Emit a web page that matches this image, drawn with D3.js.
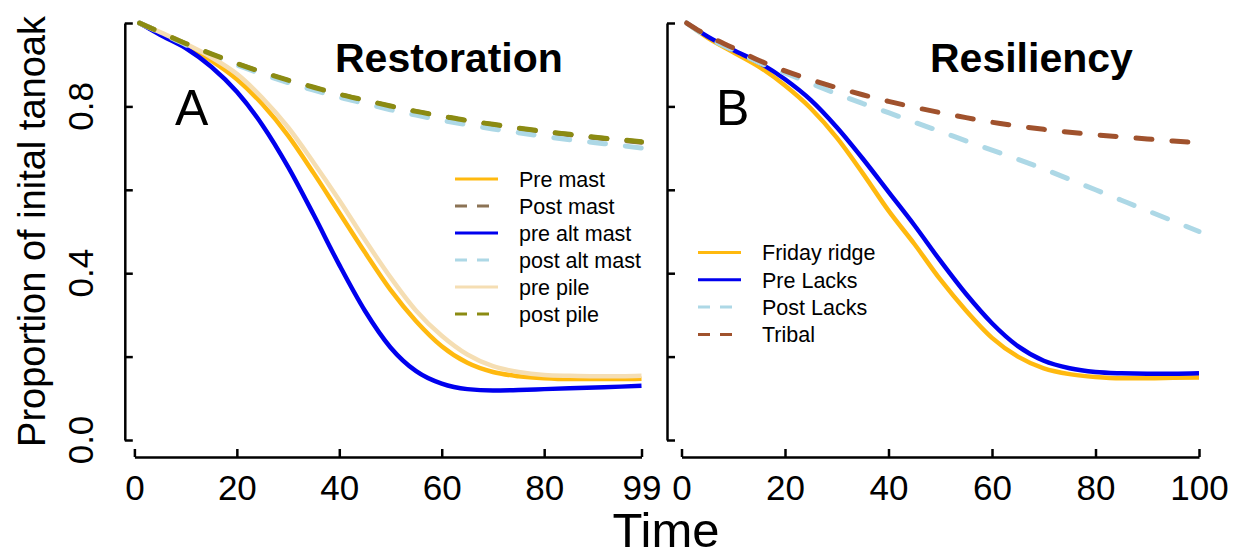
<!DOCTYPE html>
<html><head><meta charset="utf-8">
<script src="https://cdn.jsdelivr.net/npm/d3@7"></script>
<style>body{margin:0;background:#fff}text{font-family:"Liberation Sans",Arial,sans-serif}</style>
</head><body><svg id="c" width="1242" height="559"></svg>
<script>
// ---- data ----
const timeA = [1,5,10,15,20,25,30,35,40,45,50,55,60,65,70,75,80,85,90,95,99];
const preMast  = [1.0,0.975,0.945,0.91,0.865,0.805,0.73,0.64,0.545,0.45,0.36,0.285,0.225,0.185,0.163,0.153,0.148,0.146,0.146,0.146,0.147];
const postMast = [1.0,0.978,0.95,0.925,0.902,0.881,0.862,0.845,0.828,0.814,0.800,0.787,0.776,0.765,0.756,0.747,0.739,0.732,0.725,0.719,0.714];
const preAlt   = [1.0,0.972,0.94,0.895,0.835,0.755,0.655,0.54,0.42,0.31,0.222,0.165,0.135,0.122,0.119,0.12,0.122,0.124,0.126,0.128,0.13];
const postAlt  = [1.0,0.977,0.948,0.922,0.899,0.877,0.857,0.839,0.822,0.807,0.792,0.779,0.767,0.756,0.746,0.737,0.728,0.72,0.713,0.706,0.70];
const prePile  = [1.0,0.978,0.95,0.918,0.878,0.82,0.75,0.665,0.575,0.48,0.39,0.31,0.25,0.205,0.177,0.163,0.156,0.154,0.153,0.153,0.154];
const postPile = [1.0,0.978,0.951,0.926,0.903,0.882,0.863,0.846,0.829,0.815,0.801,0.788,0.777,0.766,0.757,0.748,0.740,0.733,0.726,0.720,0.715];

const timeB = [1,5,10,15,20,25,30,35,40,45,50,55,60,65,70,75,80,85,90,95,100];
const fridayRidge = [1.0,0.965,0.93,0.895,0.85,0.795,0.725,0.64,0.55,0.47,0.385,0.31,0.245,0.2,0.172,0.158,0.151,0.148,0.148,0.149,0.15];
const preLacks    = [1.0,0.968,0.935,0.905,0.865,0.815,0.75,0.675,0.595,0.515,0.43,0.35,0.28,0.225,0.19,0.172,0.163,0.16,0.159,0.159,0.16];
const postLacks   = [1.0,0.966,0.935,0.905,0.88,0.855,0.83,0.807,0.785,0.762,0.74,0.717,0.695,0.673,0.65,0.625,0.60,0.575,0.55,0.525,0.50];
const tribal      = [1.0,0.97,0.94,0.91,0.885,0.864,0.845,0.828,0.812,0.798,0.785,0.773,0.762,0.753,0.745,0.738,0.732,0.727,0.722,0.717,0.713];

const namesA = ["Pre mast","Post mast","pre alt mast","post alt mast","pre pile","post pile"];
const namesB = ["Friday ridge","Pre Lacks","Post Lacks","Tribal"];
const xTicksA = [0,20,40,60,80,99];
const xTicksB = [0,20,40,60,80,100];
const yTicks = [0,0.2,0.4,0.6,0.8,1.0];
const yLabels = [0,0.4,0.8];

// ---- styling ----
const seriesA = [
  {name:namesA[0], v:preMast,  color:"#FFB90F", dash:false},
  {name:namesA[1], v:postMast, color:"#8B7355", dash:true},
  {name:namesA[2], v:preAlt,   color:"#0000EE", dash:false},
  {name:namesA[3], v:postAlt,  color:"#ADD8E6", dash:true},
  {name:namesA[4], v:prePile,  color:"#F5DEB3", dash:false},
  {name:namesA[5], v:postPile, color:"#8B8B12", dash:true}
];
const seriesB = [
  {name:namesB[0], v:fridayRidge, color:"#FFB90F", dash:false},
  {name:namesB[1], v:preLacks,    color:"#0000EE", dash:false},
  {name:namesB[2], v:postLacks,   color:"#ADD8E6", dash:true},
  {name:namesB[3], v:tribal,      color:"#A0522D", dash:true}
];

const svg = d3.select("#c");
const y = d3.scaleLinear().domain([0,1]).range([440,23]);
const xA = d3.scaleLinear().domain([0,99]).range([134.4,641.5]);
const xB = d3.scaleLinear().domain([0,100]).range([681.5,1199]);
const axisY = 457;

function panel(x, yAxisX, time, series, xTicks, showYLabels, letter, letterX, title, titleX, leg) {
  const g = svg.append("g");
  // y axis
  const ya = g.append("g").attr("transform",`translate(${yAxisX},0)`)
    .call(d3.axisLeft(y).tickValues(yTicks).tickSizeInner(-8).tickSizeOuter(0).tickFormat(""));
  ya.selectAll("path,line").attr("stroke","#000").attr("stroke-width",2.5);
  // x axis
  const xa = g.append("g").attr("transform",`translate(0,${axisY})`)
    .call(d3.axisBottom(x).tickValues(xTicks).tickSizeInner(-8).tickSizeOuter(0).tickPadding(18).tickFormat(d3.format("d")));
  xa.selectAll("path,line").attr("stroke","#000").attr("stroke-width",2.5);
  xa.selectAll("text").attr("font-size",35).attr("fill","#000").attr("font-family","Liberation Sans, Arial, sans-serif");
  if (showYLabels) {
    g.selectAll(".yl").data(yLabels).enter().append("text")
      .attr("transform",d=>`translate(93,${y(d)}) rotate(-90)`)
      .attr("text-anchor","middle").attr("font-size",35).text(d=>d3.format(".1f")(d));
  }
  // lines
  const line = vals => d3.line().x((d,i)=>x(time[i])).y(d=>y(d)).curve(d3.curveMonotoneX)(vals);
  series.forEach(s=>{
    g.append("path").attr("d",line(s.v)).attr("fill","none").attr("stroke",s.color)
      .attr("stroke-width",s.dash?5:4.5).attr("stroke-linecap",s.dash?"round":"butt")
      .attr("stroke-dasharray",s.dash?"16,20":null);
  });
  // letter & title
  g.append("text").attr("x",letterX).attr("y",125).attr("font-size",50).text(letter);
  g.append("text").attr("x",titleX).attr("y",72).attr("font-size",41).attr("font-weight","bold").text(title);
  // legend
  series.forEach((s,i)=>{
    const ry = leg.y0 + i*leg.dy;
    g.append("line").attr("x1",leg.x0).attr("x2",leg.x0+43).attr("y1",ry).attr("y2",ry)
      .attr("stroke",s.color).attr("stroke-width",3).attr("stroke-dasharray",s.dash?"12,10":null);
    g.append("text").attr("x",leg.tx).attr("y",ry+7.7).attr("font-size",21.5).text(s.name);
  });
}

panel(xA, 124.8, timeA, seriesA, xTicksA, true, "A", 175, "Restoration", 335, {x0:455, tx:519, y0:179, dy:27});
panel(xB, 667, timeB, seriesB, xTicksB, false, "B", 716, "Resiliency", 930, {x0:698, tx:762, y0:252.5, dy:27.3});

// axis titles
svg.append("text").attr("x",666).attr("y",547).attr("text-anchor","middle").attr("font-size",49).text("Time");
svg.append("text").attr("transform","translate(45,231.5) rotate(-90)").attr("text-anchor","middle")
  .attr("font-size",38).text("Proportion of inital tanoak");
</script></body></html>
